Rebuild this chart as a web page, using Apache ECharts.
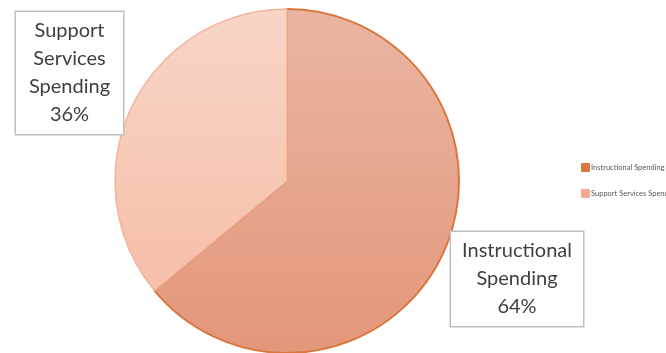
<!DOCTYPE html>
<html>
<head>
<meta charset="utf-8">
<script src="https://cdn.jsdelivr.net/npm/echarts@6/dist/echarts.min.js"></script>
<style>html,body{margin:0;padding:0;background:#fff;}#c{width:666px;height:353px;}</style>
</head>
<body>
<div id="c"></div>
<script>
const categories = ['Instructional Spending', 'Support Services Spending'];
const values = [64, 36];
const labelCenters = [[517, 279], [69.5, 73]];
const labelWidths = [114, 89];

const fills = [
  ['#e9b6a2', '#e3977a'],
  ['#f9d5c7', '#f6bfa9']
];
const borders = ['#d9773f', '#f3b49b'];
const legendColors = ['#d9773f', '#f2ab90'];

const chart = echarts.init(document.getElementById('c'));
chart.setOption({
  animation: false,
  legend: {
    orient: 'vertical',
    left: 576,
    top: 158,
    itemWidth: 7,
    itemHeight: 7,
    itemGap: 17,
    icon: 'rect',
    textStyle: { fontSize: 7.5, color: '#595959', fontFamily: 'Lato', padding: [0, 0, 0, -3] },
    data: categories.map((c, i) => ({ name: c, itemStyle: { color: legendColors[i], borderColor: legendColors[i] } }))
  },
  series: [{
    type: 'pie',
    center: [287, 181],
    radius: 172,
    startAngle: 90,
    clockwise: true,
    data: categories.map((c, i) => ({
      name: c,
      value: values[i],
      label: { width: labelWidths[i] },
      itemStyle: {
        color: new echarts.graphic.LinearGradient(0, 0, 0, 1, [
          { offset: 0, color: fills[i][0] },
          { offset: 1, color: fills[i][1] }
        ]),
        borderColor: borders[i],
        borderWidth: i === 0 ? 2 : 1.5
      }
    })),
    label: {
      show: true,
      position: 'outside',
      formatter: p => p.name.split(' ').join('\n') + '\n' + p.value + '%',
      fontFamily: 'Lato',
      fontSize: 20,
      lineHeight: 28,
      color: '#404040',
      backgroundColor: '#fff',
      borderColor: '#bfbfbf',
      borderWidth: 1.5,
      overflow: 'none',
      padding: [5, 9, 5, 9],
      align: 'center'
    },
    labelLine: { show: false },
    labelLayout: p => ({
      x: labelCenters[p.dataIndex][0],
      y: labelCenters[p.dataIndex][1],
      align: 'center',
      verticalAlign: 'middle'
    }),
    emphasis: { disabled: true }
  }]
});
</script>
</body>
</html>
